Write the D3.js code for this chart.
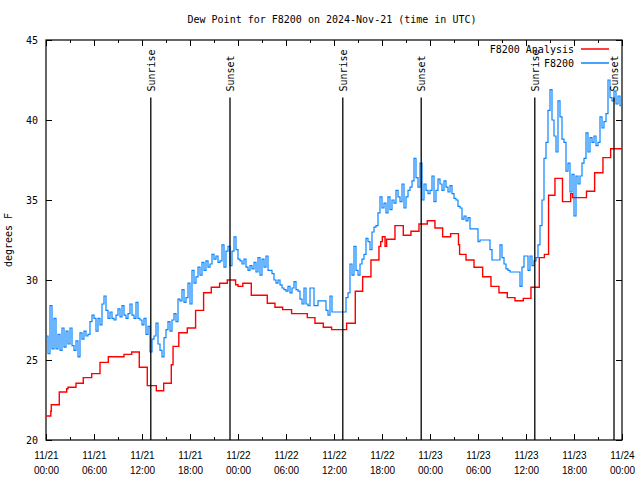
<!DOCTYPE html>
<html><head><meta charset="utf-8">
<script src="https://cdn.jsdelivr.net/npm/d3@7/dist/d3.min.js"></script>
<style>body{margin:0;background:#fff}svg{display:block}</style>
</head><body>
<svg id="c" width="640" height="480"></svg>
<script>
const chartTitle = "Dew Point for F8200 on 2024-Nov-21 (time in UTC)";
const yAxisLabel = "degrees F";
const startTime = "2024-11-21T00:00:00Z";
const endTime = "2024-11-24T00:00:00Z";
const yTicks = [20, 25, 30, 35, 40, 45];
const xTickHours = [0, 6, 12, 18, 24, 30, 36, 42, 48, 54, 60, 66, 72];
const seriesNames = ["F8200 Analysis", "F8200"];
const sunLabels = ["Sunrise", "Sunset", "Sunrise", "Sunset", "Sunrise", "Sunset"];
const sunHours = [13.1, 23.0, 37.1, 46.9, 61.1, 71.0];

// analysis (step) series: hours since start, value
const analysisHours = [0, 0.6, 0.66, 1.66, 2.59, 2.75, 3.75, 4.66, 5.71, 6.75, 7.79, 9.75, 10.71, 11.66, 12.66, 13.79, 14.71, 15.66, 15.88, 16.6, 17.66, 18.7, 19.7, 20.66, 21.7, 22.66, 23.7, 24.0, 24.6, 25.66, 27.66, 28.62, 29.58, 30.7, 32.66, 33.62, 34.66, 35.7, 37.58, 38.66, 39.58, 40.62, 41.62, 41.84, 42.04, 42.38, 42.58, 43.62, 44.66, 45.62, 46.62, 47.66, 48.62, 49.58, 50.58, 51.56, 51.7, 52.5, 53.5, 54.58, 55.62, 56.62, 57.66, 58.62, 59.66, 60.62, 61.66, 62.3, 62.82, 63.62, 64.56, 65.58, 65.82, 67.56, 68.58, 69.62, 70.58, 72];
const analysisValues = [21.5, 21.8, 22.2, 23.0, 23.2, 23.3, 23.55, 23.9, 24.15, 24.85, 25.2, 25.35, 25.5, 24.55, 23.4, 23.08, 23.55, 24.7, 25.85, 26.7, 27.0, 28.1, 29.2, 29.55, 29.8, 30.0, 29.7, 29.6, 29.8, 29.05, 28.55, 28.3, 28.15, 27.9, 27.65, 27.3, 27.05, 26.9, 27.3, 29.3, 30.2, 31.25, 32.1, 32.4, 32.7, 32.1, 32.55, 33.4, 32.8, 33.05, 33.5, 33.7, 33.25, 32.7, 32.9, 32.2, 31.6, 31.25, 30.8, 30.2, 29.6, 29.2, 28.9, 28.7, 28.85, 29.55, 31.4, 31.6, 35.3, 36.35, 34.9, 35.4, 35.15, 35.55, 36.7, 37.65, 38.2, 38.2];

// observed series: one reading every 15 minutes from startTime
const obsStepMinutes = 15;
const obsValues = [
 26.5,25.4,28.4,25.7,27.6,25.7,26.6,25.6,27.0,25.8,26.8,26.0,
 27.0,25.9,25.6,26.2,25.2,26.7,26.3,26.8,26.5,26.6,27.4,27.8,
 27.6,26.8,27.6,27.2,28.5,29.0,28.1,27.6,28.0,27.6,27.5,27.8,
 28.2,27.7,28.4,27.8,27.6,27.9,28.5,27.8,27.6,28.6,27.6,27.5,
 27.2,27.6,26.6,27.1,25.5,26.3,26.5,27.3,26.0,25.6,25.2,26.4,
 26.9,27.4,26.8,27.5,27.9,27.4,28.8,28.7,29.4,28.6,28.9,29.8,
 28.5,30.6,29.8,30.2,30.8,30.3,31.1,30.6,31.2,30.8,31.0,31.6,
 31.3,31.5,31.1,31.2,32.2,30.8,31.8,32.1,30.9,31.8,32.7,31.9,
 31.3,31.2,31.0,31.3,30.8,30.6,30.9,30.7,31.1,30.5,31.4,30.3,
 31.3,30.8,31.5,30.6,30.6,30.4,30.0,29.8,30.0,29.7,29.5,29.4,
 29.3,29.6,29.2,29.5,29.9,29.4,29.3,28.8,28.5,29.5,28.5,28.4,
 29.5,29.5,28.4,28.4,28.7,28.7,28.7,28.7,28.1,27.8,29.0,28.0,
 28.0,28.0,28.0,28.0,28.0,28.0,28.9,29.2,31.0,30.3,32.1,30.6,
 30.3,31.0,31.3,31.6,32.6,32.4,31.9,33.0,33.3,33.4,34.2,35.2,
 34.5,34.8,34.2,35.2,34.4,35.0,34.8,35.6,35.2,34.9,36.0,34.5,
 35.2,35.6,35.8,36.2,37.6,36.4,35.8,37.3,35.0,36.0,35.6,35.4,
 35.6,36.5,34.9,35.6,36.3,36.0,35.6,36.2,35.8,35.5,35.9,35.4,
 35.1,35.0,34.6,34.5,33.8,34.0,33.7,33.9,33.2,33.2,33.2,33.2,
 32.4,32.5,32.5,32.5,32.5,32.5,31.9,31.25,31.25,31.25,31.25,32.2,
 31.4,31.0,30.7,30.6,30.5,30.5,30.5,30.5,30.5,29.6,30.8,31.5,
 31.5,30.6,31.5,30.9,31.2,31.4,32.2,33.4,35.0,37.6,38.6,40.6,
 41.9,40.0,39.0,38.0,41.2,40.2,38.8,38.6,36.8,37.3,35.5,36.6,
 34.0,36.5,36.0,36.5,37.3,37.6,39.2,38.0,38.9,38.6,39.0,38.4,
 38.6,40.2,39.5,39.9,40.4,42.5,41.4,41.2,41.8,41.0,41.5,40.9,
 41.6
];

const FONT = "'DejaVu Sans Mono', 'Liberation Mono', monospace";
const svg = d3.select("#c").style("font-family", FONT);
const L = 46, R = 622, T = 40, B = 440;
const t0 = new Date(startTime), t1 = new Date(endTime);
const HOUR = 3600e3;
const x = d3.scaleUtc().domain([t0, t1]).range([L, R]);
const y = d3.scaleLinear().domain([20, 45]).range([B, T]);
const atHour = h => new Date(t0.getTime() + h * HOUR);

svg.append("rect").attr("width", 640).attr("height", 480).attr("fill", "#fff");

svg.append("clipPath").attr("id", "pc").append("rect")
  .attr("x", L).attr("y", T).attr("width", R - L).attr("height", B - T);

// title
svg.append("text").attr("x", 332).attr("y", 23).attr("text-anchor", "middle")
  .attr("font-size", 10).text(chartTitle);

// y label
svg.append("text").attr("transform", "translate(12,240) rotate(-90)")
  .attr("text-anchor", "middle").attr("font-size", 10).text(yAxisLabel);

const xTickDates = xTickHours.map(atHour);
const fmtD = d3.utcFormat("%m/%d"), fmtT = d3.utcFormat("%H:%M");

// bottom axis
const gB = svg.append("g").attr("transform", `translate(0,${B})`)
  .call(d3.axisBottom(x).tickValues(xTickDates).tickSize(-6).tickSizeOuter(0).tickFormat(""));
gB.selectAll(".tick text").remove();
gB.selectAll(".tick").append("text").attr("fill", "#000").attr("font-size", 10)
  .attr("text-anchor", "middle")
  .each(function(d) {
    const t = d3.select(this);
    t.append("tspan").attr("x", 0).attr("y", 19).text(fmtD(d));
    t.append("tspan").attr("x", 0).attr("y", 34).text(fmtT(d));
  });
// top mirror
svg.append("g").attr("transform", `translate(0,${T})`)
  .call(d3.axisTop(x).tickValues(xTickDates).tickSize(-6).tickSizeOuter(0).tickFormat(""));
// minor x ticks every 3 hours
const minorX = d3.range(3, 72, 6).map(atHour);
svg.append("g").attr("transform", `translate(0,${B})`)
  .call(d3.axisBottom(x).tickValues(minorX).tickSize(-3).tickSizeOuter(0).tickFormat(""));
svg.append("g").attr("transform", `translate(0,${T})`)
  .call(d3.axisTop(x).tickValues(minorX).tickSize(-3).tickSizeOuter(0).tickFormat(""));

// left axis
const gL = svg.append("g").attr("transform", `translate(${L},0)`)
  .call(d3.axisLeft(y).tickValues(yTicks).tickSize(-6).tickSizeOuter(0).tickFormat(d3.format("d")));
gL.selectAll(".tick text").attr("x", -8).attr("font-size", 10).attr("font-family", FONT).attr("fill", "#000");
svg.append("g").attr("transform", `translate(${R},0)`)
  .call(d3.axisRight(y).tickValues(yTicks).tickSize(-6).tickSizeOuter(0).tickFormat(""));

svg.selectAll(".domain").remove();
svg.selectAll(".tick line").attr("stroke", "#000").attr("stroke-width", 1);

// border
svg.append("rect").attr("x", L).attr("y", T).attr("width", R - L).attr("height", B - T)
  .attr("fill", "none").attr("stroke", "#000").attr("stroke-width", 1.2);

// data
const analysis = analysisHours.map((h, i) => ({ t: atHour(h), v: analysisValues[i] }));
const obs = obsValues.map((v, i) => ({ t: new Date(t0.getTime() + i * obsStepMinutes * 60e3), v }));
const line = d3.line().x(d => x(d.t)).y(d => y(d.v)).curve(d3.curveStepAfter);

const plot = svg.append("g").attr("clip-path", "url(#pc)");
plot.append("path").datum(obs).attr("d", line).attr("fill", "none")
  .attr("stroke", "#0a84ff").attr("stroke-width", 1.2);
plot.append("path").datum(analysis).attr("d", line).attr("fill", "none")
  .attr("stroke", "#ff0000").attr("stroke-width", 1.4);

// sun lines and labels
const sunTop = y(41.4);
sunHours.forEach((h, i) => {
  const sx = x(atHour(h));
  svg.append("line").attr("x1", sx).attr("x2", sx).attr("y1", sunTop).attr("y2", B)
    .attr("stroke", "#000").attr("stroke-width", 1.3);
  svg.append("text").attr("transform", `translate(${sx + 4},${sunTop - 6}) rotate(-90)`)
    .attr("font-size", 10).attr("text-anchor", "start").text(sunLabels[i]);
});

// legend
const legY = [49, 63];
const legColors = ["#ff0000", "#0a84ff"];
seriesNames.forEach((n, i) => {
  svg.append("text").attr("x", 574).attr("y", legY[i] + 4).attr("text-anchor", "end")
    .attr("font-size", 10).text(n);
  svg.append("line").attr("x1", 581).attr("x2", 609).attr("y1", legY[i]).attr("y2", legY[i])
    .attr("stroke", legColors[i]).attr("stroke-width", 1.5);
});
</script>
</body></html>
